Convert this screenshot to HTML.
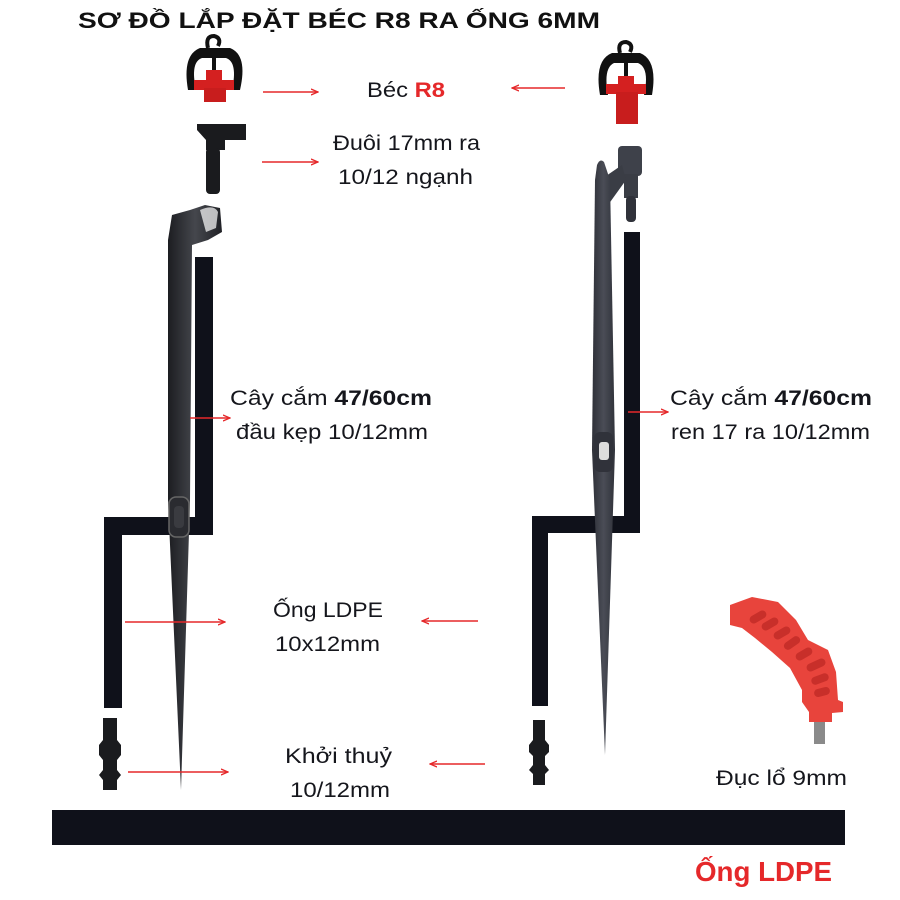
<!DOCTYPE html>
<html><head><meta charset="utf-8"><style>
body{margin:0;background:#fff}
svg{display:block}
text{font-family:"Liberation Sans","DejaVu Sans",sans-serif;fill:#15161c}
</style></head><body>
<svg width="900" height="900" viewBox="0 0 900 900" xmlns="http://www.w3.org/2000/svg">
<defs>
<marker id="a" markerWidth="8" markerHeight="8" refX="7" refY="4" orient="auto" markerUnits="userSpaceOnUse"><path d="M0,1 L7,4 L0,7" fill="none" stroke="#e5282a" stroke-width="1.3"/></marker>
<linearGradient id="st" x1="0" x2="1"><stop offset="0" stop-color="#1c1d21"/><stop offset="0.5" stop-color="#45474d"/><stop offset="1" stop-color="#202126"/></linearGradient>
<linearGradient id="st2" x1="0" x2="1"><stop offset="0" stop-color="#2e3038"/><stop offset="0.5" stop-color="#4a4d56"/><stop offset="1" stop-color="#30323a"/></linearGradient>
</defs>
<text x="78" y="28" font-size="22" font-weight="bold" textLength="522" lengthAdjust="spacingAndGlyphs" style="fill:#111">SƠ ĐỒ LẮP ĐẶT BÉC R8 RA ỐNG 6MM</text>

<!-- pipes -->
<path d="M195,257 H213 V535 H122 V708 H104 V517 H195 Z" fill="#0f111a"/>
<path d="M624,232 H640 V533 H548 V706 H532 V516 H624 Z" fill="#0f111a"/>
<rect x="52" y="810" width="793" height="35" fill="#0f111a"/>
<text x="695" y="881" font-size="28" font-weight="bold" textLength="137" lengthAdjust="spacingAndGlyphs" style="fill:#e5282a">Ống LDPE</text>

<!-- left sprinkler -->
<g>
<path d="M188,90 Q182,55 200,48 H230 Q248,55 240,90 L232,90 Q238,62 226,58 H202 Q190,62 196,90 Z" fill="#111"/>
<path d="M208,48 Q205,36 214,36 Q222,38 218,46" fill="none" stroke="#111" stroke-width="4"/>
<rect x="212" y="50" width="4" height="25" fill="#111"/>
<rect x="206" y="70" width="16" height="12" fill="#d42020"/>
<rect x="194" y="80" width="40" height="10" fill="#d42020"/>
<rect x="204" y="88" width="22" height="14" fill="#c81d1d"/>
<path d="M197,124 H246 V140 H225 V150 H206 V140 L197,130 Z" fill="#1a1b1e"/>
<rect x="206" y="148" width="14" height="46" rx="4" fill="#1a1b1e"/>
<!-- stake -->
<path d="M172,215 L190,210 L205,205 L220,208 L222,232 L208,240 L192,245 L190,500 L181,790 L168,500 L168,240 Z" fill="url(#st)"/>
<path d="M200,210 Q214,204 218,212 L216,228 L206,232 Z" fill="#fff" opacity="0.7"/>
<rect x="169" y="497" width="20" height="40" rx="7" fill="#2a2b30" stroke="#666" stroke-width="1.5"/>
<rect x="174" y="506" width="10" height="22" rx="4" fill="#3a3b40"/>
<!-- connector -->
<path d="M103,718 H117 V740 L121,745 V755 L117,760 V770 L121,775 L117,780 V790 H103 V780 L99,775 L103,770 V760 L99,755 V745 L103,740 Z" fill="#1a1b1e"/>
</g>

<!-- right sprinkler -->
<g>
<path d="M600,95 Q594,60 612,53 H640 Q658,60 652,95 L644,95 Q650,68 638,63 H614 Q603,68 608,95 Z" fill="#111"/>
<path d="M620,53 Q617,42 626,42 Q634,44 630,52" fill="none" stroke="#111" stroke-width="4"/>
<rect x="624" y="55" width="4" height="25" fill="#111"/>
<rect x="618" y="76" width="16" height="10" fill="#d42020"/>
<rect x="606" y="84" width="40" height="10" fill="#d42020"/>
<rect x="616" y="92" width="22" height="32" fill="#c81d1d"/>
<!-- stake head -->
<rect x="618" y="146" width="24" height="30" rx="4" fill="#3e414a"/>
<rect x="624" y="174" width="14" height="24" fill="#3a3d45"/>
<rect x="626" y="196" width="10" height="26" rx="4" fill="#30323a"/>
<path d="M606,176 L622,165 L626,180 L608,205 Z" fill="#3a3d45"/>
<path d="M597,165 Q600,158 604,162 L610,180 L615,450 L605,755 L592,450 L595,180 Z" fill="url(#st2)"/>
<rect x="594" y="432" width="19" height="40" rx="6" fill="#30323a"/>
<rect x="599" y="442" width="10" height="18" rx="3" fill="#ddd"/>
<path d="M533,720 H545 V740 L549,745 V752 L545,756 V765 L549,770 L545,774 V785 H533 V774 L529,770 L533,765 V756 L529,752 V745 L533,740 Z" fill="#1a1b1e"/>
</g>

<!-- punch tool -->
<g>
<path d="M730,605 L752,597 L778,602 L796,620 L808,640 L828,650 L836,672 L838,700 L843,702 V712 L832,713 V722 L809,722 V712 L802,702 L802,690 L790,668 L772,652 L755,638 L742,628 L730,625 Z" fill="#e8443c"/>
<rect x="814" y="722" width="11" height="22" fill="#8a8a8a"/>
<g fill="#c82f2a">
<rect x="754" y="608" width="8" height="18" rx="4" transform="rotate(60 758 617)"/>
<rect x="766" y="615" width="8" height="18" rx="4" transform="rotate(60 770 624)"/>
<rect x="778" y="624" width="8" height="18" rx="4" transform="rotate(60 782 633)"/>
<rect x="788" y="634" width="8" height="18" rx="4" transform="rotate(55 792 643)"/>
<rect x="800" y="645" width="8" height="18" rx="4" transform="rotate(60 804 654)"/>
<rect x="812" y="655" width="8" height="20" rx="4" transform="rotate(65 816 665)"/>
<rect x="816" y="670" width="8" height="18" rx="4" transform="rotate(70 820 679)"/>
<rect x="818" y="684" width="8" height="16" rx="4" transform="rotate(75 822 692)"/>
</g>
</g>

<!-- labels -->
<g font-size="21">
<text x="367" y="97" textLength="78" lengthAdjust="spacingAndGlyphs">Béc <tspan font-weight="bold" style="fill:#e5282a">R8</tspan></text>
<text x="333" y="150" textLength="147" lengthAdjust="spacingAndGlyphs">Đuôi 17mm ra</text>
<text x="338" y="184" textLength="135" lengthAdjust="spacingAndGlyphs">10/12 ngạnh</text>
<text x="230" y="405" textLength="202" lengthAdjust="spacingAndGlyphs">Cây cắm <tspan font-weight="bold">47/60cm</tspan></text>
<text x="236" y="439" textLength="192" lengthAdjust="spacingAndGlyphs">đầu kẹp 10/12mm</text>
<text x="670" y="405" textLength="202" lengthAdjust="spacingAndGlyphs">Cây cắm <tspan font-weight="bold">47/60cm</tspan></text>
<text x="671" y="439" textLength="199" lengthAdjust="spacingAndGlyphs">ren 17 ra 10/12mm</text>
<text x="273" y="617" textLength="110" lengthAdjust="spacingAndGlyphs">Ống LDPE</text>
<text x="275" y="651" textLength="105" lengthAdjust="spacingAndGlyphs">10x12mm</text>
<text x="285" y="763" textLength="107" lengthAdjust="spacingAndGlyphs">Khởi thuỷ</text>
<text x="290" y="797" textLength="100" lengthAdjust="spacingAndGlyphs">10/12mm</text>
<text x="716" y="785" textLength="131" lengthAdjust="spacingAndGlyphs">Đục lổ 9mm</text>
</g>

<!-- arrows -->
<g stroke="#e5282a" stroke-width="1.5" marker-end="url(#a)">
<line x1="263" y1="92" x2="318" y2="92"/>
<line x1="565" y1="88" x2="512" y2="88"/>
<line x1="262" y1="162" x2="318" y2="162"/>
<line x1="190" y1="418" x2="230" y2="418"/>
<line x1="628" y1="412" x2="668" y2="412"/>
<line x1="125" y1="622" x2="225" y2="622"/>
<line x1="478" y1="621" x2="422" y2="621"/>
<line x1="128" y1="772" x2="228" y2="772"/>
<line x1="485" y1="764" x2="430" y2="764"/>
</g>
</svg>
</body></html>
